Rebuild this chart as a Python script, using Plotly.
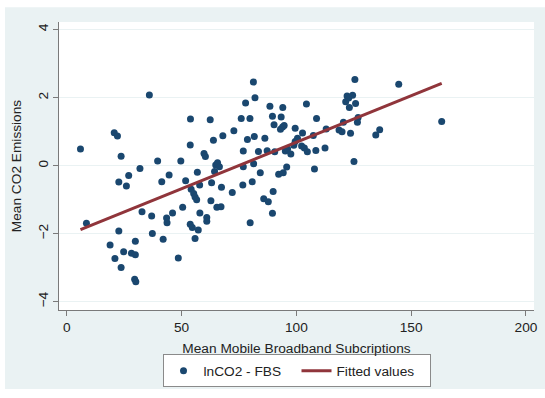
import plotly.graph_objects as go

# Mean Mobile Broadband Subscriptions (x) and Mean CO2 Emissions (y)
mobile_broadband = [
    6.0, 8.6, 18.9, 21.0, 20.7, 22.1, 22.7, 22.7, 23.7, 23.7,
    24.8, 26.0, 27.0, 28.2, 29.9, 29.9, 29.6, 30.1, 31.9, 32.8,
    36.0, 37.0, 37.3, 39.6, 41.4, 42.0, 43.5, 43.7, 44.6, 46.1,
    48.6, 49.7, 50.5, 51.8, 53.8, 53.9, 53.8, 54.2, 54.7, 55.3,
    55.9, 55.9, 56.6, 56.9, 57.3, 57.9, 58.0, 59.8, 60.4, 61.0,
    61.0, 62.5, 62.8, 63.1, 63.9, 64.4, 64.9, 65.4, 65.7, 66.5,
    67.2, 67.4, 68.0, 72.1, 72.8, 76.0, 76.9, 76.9, 76.7, 77.9,
    78.7, 79.8, 79.9, 80.8, 81.3, 81.4, 81.7, 82.0, 83.5, 84.3,
    85.8, 86.3, 87.3, 87.8, 88.5, 89.6, 89.6, 89.9, 90.3, 90.6,
    92.3, 93.1, 93.4, 94.0, 94.1, 94.3, 94.7, 95.2, 95.8, 96.2,
    97.6, 98.9, 99.5, 99.5, 100.5, 102.3, 102.7, 103.5, 104.4, 104.8,
    107.4, 107.9, 108.5, 108.8, 112.5, 113.0, 118.6, 119.9, 120.5, 121.5,
    122.1, 122.8, 123.1, 123.6, 124.5, 125.1, 125.5, 125.8, 126.6, 126.9,
    134.6, 136.3, 144.6, 163.3,
]
co2_emissions = [
    0.49, -1.69, -2.33, -2.73, 0.97, 0.87, -0.48, -1.92, 0.28, -2.99,
    -2.53, -0.60, -0.29, -2.57, -2.62, -2.22, -3.34, -3.41, -0.08, -1.35,
    2.08, -1.48, -1.99, 0.14, -0.47, -2.16, -1.54, -1.68, -0.27, -1.39,
    -2.71, 0.14, -1.22, -0.44, 0.61, 1.37, -1.72, -0.69, -1.82, -0.82,
    -2.14, -0.92, -1.00, -0.19, -1.89, -0.57, -1.39, 0.36, 0.27, -1.52,
    -1.63, 1.35, -1.03, -0.50, 0.75, -0.17, 0.02, -1.22, 0.09, -0.03,
    -1.21, -0.63, 0.88, -0.79, 1.03, 1.39, 0.43, -0.03, -0.57, 1.84,
    0.77, 1.39, -1.68, -0.47, 2.46, 0.06, 0.86, 2.00, 0.42, -0.21,
    -0.97, 0.81, 0.44, -1.06, 1.75, 1.45, -1.40, -0.76, 1.20, 0.41,
    -0.25, 1.07, 1.43, 1.14, 1.71, -0.21, 1.18, 0.43, -0.04, 0.49,
    0.34, 0.60, 1.10, 0.71, 0.81, 0.58, 0.96, 0.52, 1.81, 0.41,
    0.89, -0.10, 0.45, 1.39, 0.52, 1.08, 1.05, 1.00, 1.28, 1.88,
    2.05, 1.99, 1.71, 0.95, 2.07, 0.12, 2.53, 1.83, 1.28, 1.42,
    0.90, 1.06, 2.39, 1.30,
]
fitted_x = [6.0, 163.3]
fitted_y = [-1.88, 2.42]

x_tick_values = [0, 50, 100, 150, 200]
y_tick_values = [-4, -2, 0, 2, 4]

FONT = "Liberation Sans, Arial, sans-serif"
FS = 13.7
BG = "#eaf2f3"
TEXT_FONT = dict(family=FONT, size=FS, color="#222")

fig = go.Figure()
fig.add_trace(go.Scatter(
    x=mobile_broadband, y=co2_emissions, mode="markers", name="lnCO2 - FBS",
    marker=dict(color="#1a476f", size=7, line=dict(width=0)),
))
fig.add_trace(go.Scatter(
    x=fitted_x, y=fitted_y, mode="lines", name="Fitted values",
    line=dict(color="#90353b", width=3),
))

fig.update_layout(
    width=545, height=398,
    margin=dict(l=59, r=11, t=22, b=84, pad=0),
    paper_bgcolor=BG, plot_bgcolor="white",
    font=TEXT_FONT,
    showlegend=True,
    legend=dict(
        orientation="h", x=0.5, xanchor="center", y=-0.154, yanchor="top",
        bgcolor="white", bordercolor="#8a8a8a", borderwidth=1,
        entrywidth=88, entrywidthmode="pixels",
        font=TEXT_FONT,
    ),
    xaxis=dict(
        range=[-3.35, 203.5], tickvals=x_tick_values, automargin=False,
        showgrid=False, zeroline=False,
        showline=True, linecolor="#7a7a7a", linewidth=1,
        ticks="outside", ticklen=5, tickcolor="#7a7a7a",
        tickfont=TEXT_FONT,
        title=dict(text="Mean Mobile Broadband Subcriptions", standoff=8,
                   font=TEXT_FONT),
    ),
    yaxis=dict(
        range=[-4.241, 4.223], tickvals=y_tick_values, tickangle=-90,
        automargin=False,
        showgrid=True, gridcolor=BG, gridwidth=1.2, zeroline=False,
        showline=True, linecolor="#7a7a7a", linewidth=1,
        ticks="outside", ticklen=5, tickcolor="#7a7a7a",
        tickfont=TEXT_FONT,
        title=dict(text="Mean CO2 Emissions", standoff=10, font=TEXT_FONT),
    ),
    shapes=[
        dict(type="rect", xref="paper", yref="paper", x0=-0.2, x1=-0.1137,
             y0=-0.4, y1=1.2, fillcolor="white", line=dict(width=0), layer="below"),
        dict(type="rect", xref="paper", yref="paper", x0=-0.2, x1=1.1,
             y0=1.0514, y1=1.2, fillcolor="white", line=dict(width=0), layer="below"),
        dict(type="rect", xref="paper", yref="paper", x0=-0.2, x1=1.1,
             y0=-0.4, y1=-0.274, fillcolor="white", line=dict(width=0), layer="below"),
    ],
)

fig.write_html(
    "out.html",
    config={"displayModeBar": False},
    post_script="document.body.style.margin='0px';",
)
